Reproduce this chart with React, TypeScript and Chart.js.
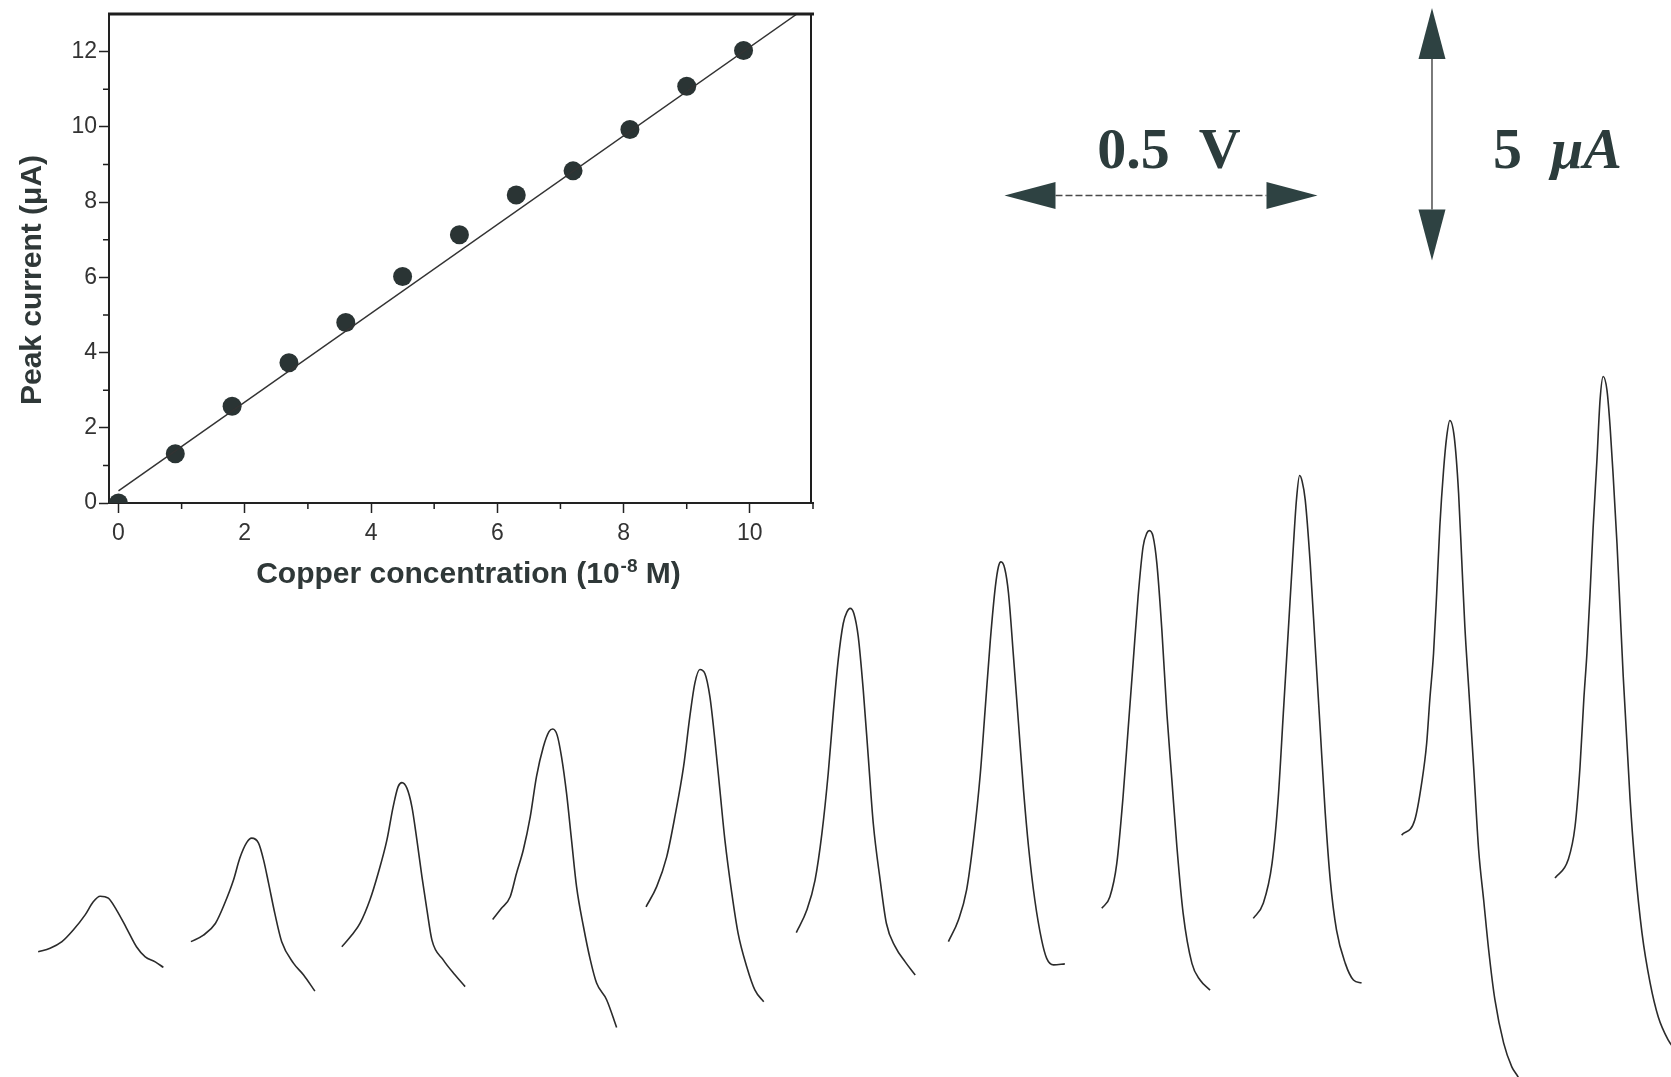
import React, { useEffect, useRef } from "react";
import { Chart, registerables } from "chart.js";

Chart.register(...registerables);

// ---------------- Inset: calibration plot ----------------
const concentrations = [0, 0.9, 1.8, 2.7, 3.6, 4.5, 5.4, 6.3, 7.2, 8.1, 9.0, 9.9]; // 10^-8 M
const peakCurrents = [0, 1.31, 2.57, 3.73, 4.8, 6.02, 7.13, 8.19, 8.83, 9.93, 11.08, 12.03]; // µA
const fitIntercept = 0.32;
const fitSlope = 1.18;
const insetXMajorTicks = [0, 2, 4, 6, 8, 10];
const insetXMinorTicks = [1, 3, 5, 7, 9, 11];
const insetYMajorTicks = [0, 2, 4, 6, 8, 10, 12];
const insetYMinorTicks = [1, 3, 5, 7, 9, 11];
const insetXRange = [-0.15, 11];
const insetYRange = [0, 13];

// ---------------- Main: stripping voltammograms (potential V, current µA, offset traces) ----------------
const vg1 = [[0.061, 2.48], [0.08, 2.55], [0.099, 2.68], [0.117, 2.91], [0.136, 3.21], [0.149, 3.47], [0.16, 3.58], [0.173, 3.54], [0.186, 3.31], [0.202, 2.95], [0.218, 2.58], [0.232, 2.38], [0.248, 2.28], [0.261, 2.17]];
const vg2 = [[0.305, 2.68], [0.325, 2.81], [0.344, 3.04], [0.359, 3.44], [0.373, 3.9], [0.383, 4.33], [0.394, 4.64], [0.402, 4.73], [0.413, 4.63], [0.421, 4.3], [0.429, 3.84], [0.439, 3.24], [0.45, 2.68], [0.469, 2.25], [0.485, 2.02], [0.503, 1.7]];
const vg3 = [[0.546, 2.58], [0.562, 2.81], [0.575, 3.04], [0.591, 3.51], [0.604, 4.03], [0.618, 4.69], [0.628, 5.35], [0.636, 5.75], [0.642, 5.83], [0.65, 5.72], [0.658, 5.35], [0.666, 4.69], [0.674, 3.97], [0.682, 3.31], [0.69, 2.71], [0.708, 2.32], [0.727, 2.02], [0.743, 1.79]];
const vg4 = [[0.787, 3.12], [0.801, 3.34], [0.815, 3.57], [0.825, 4.03], [0.836, 4.5], [0.847, 5.15], [0.857, 5.95], [0.868, 6.54], [0.877, 6.84], [0.883, 6.89], [0.89, 6.77], [0.897, 6.34], [0.905, 5.62], [0.913, 4.69], [0.921, 3.77], [0.932, 2.98], [0.943, 2.32], [0.953, 1.86], [0.969, 1.53], [0.985, 0.98]];
const vg5 = [[1.032, 3.37], [1.049, 3.77], [1.065, 4.36], [1.078, 5.15], [1.092, 6.15], [1.102, 7.14], [1.11, 7.8], [1.118, 8.07], [1.126, 7.99], [1.134, 7.53], [1.142, 6.67], [1.15, 5.68], [1.158, 4.69], [1.169, 3.64], [1.179, 2.85], [1.193, 2.18], [1.206, 1.72], [1.22, 1.49]];
const vg6 = [[1.272, 2.86], [1.289, 3.31], [1.302, 3.9], [1.313, 4.83], [1.323, 6.01], [1.331, 7.2], [1.339, 8.26], [1.347, 8.98], [1.353, 9.21], [1.358, 9.28], [1.364, 9.18], [1.371, 8.72], [1.379, 7.66], [1.387, 6.34], [1.395, 5.02], [1.406, 3.9], [1.416, 3.04], [1.43, 2.58], [1.446, 2.28], [1.462, 2.02]];
const vg7 = [[1.515, 2.68], [1.531, 3.11], [1.544, 3.7], [1.555, 4.69], [1.566, 6.01], [1.574, 7.33], [1.582, 8.65], [1.59, 9.71], [1.595, 10.11], [1.599, 10.2], [1.605, 10.07], [1.611, 9.58], [1.619, 8.32], [1.627, 7.0], [1.635, 5.68], [1.643, 4.56], [1.653, 3.51], [1.664, 2.71], [1.672, 2.35], [1.683, 2.22], [1.701, 2.24]];
const vg8 = [[1.76, 3.34], [1.773, 3.57], [1.784, 4.23], [1.794, 5.55], [1.802, 6.87], [1.81, 8.19], [1.818, 9.51], [1.826, 10.5], [1.832, 10.77], [1.836, 10.82], [1.842, 10.7], [1.848, 10.17], [1.856, 8.85], [1.864, 7.2], [1.872, 5.88], [1.88, 4.56], [1.89, 3.24], [1.904, 2.25], [1.917, 1.92], [1.933, 1.72]];
const vg9 = [[2.002, 3.14], [2.018, 3.44], [2.032, 4.23], [2.042, 5.55], [2.05, 7.2], [2.058, 8.85], [2.066, 10.5], [2.071, 11.43], [2.076, 11.91], [2.08, 11.8], [2.085, 11.43], [2.093, 10.17], [2.101, 8.52], [2.109, 6.87], [2.117, 5.22], [2.125, 3.9], [2.135, 2.91], [2.149, 2.25], [2.162, 1.92], [2.175, 1.86]];
const vg10 = [[2.239, 4.79], [2.26, 5.09], [2.271, 5.82], [2.279, 6.61], [2.284, 7.47], [2.29, 8.39], [2.295, 9.58], [2.3, 10.9], [2.306, 12.02], [2.311, 12.68], [2.316, 13.0], [2.323, 12.68], [2.33, 11.56], [2.335, 10.24], [2.34, 8.92], [2.346, 7.73], [2.354, 6.15], [2.362, 4.5], [2.37, 3.51], [2.378, 2.52], [2.388, 1.53], [2.402, 0.67], [2.415, 0.2], [2.425, 0], [2.431, -0.16]];
const vg11 = [[2.484, 3.94], [2.505, 4.3], [2.516, 4.96], [2.524, 6.15], [2.53, 7.47], [2.535, 8.39], [2.54, 9.58], [2.545, 10.9], [2.551, 12.22], [2.556, 13.41], [2.561, 13.87], [2.567, 13.6], [2.572, 12.88], [2.577, 11.89], [2.583, 10.57], [2.588, 9.25], [2.593, 7.93], [2.604, 5.49], [2.612, 4.16], [2.623, 2.85], [2.636, 1.86], [2.649, 1.19], [2.665, 0.73], [2.676, 0.53]];
const voltammograms = [vg1, vg2, vg3, vg4, vg5, vg6, vg7, vg8, vg9, vg10, vg11];

const potentialRange = [0, 2.6693]; // V across the page
const currentRange = [0, 21.327]; // µA across the page
const scaleBarVolts = 0.5;
const scaleBarMicroamps = 5;
const hBarAnchor = { potential: 1.6046, current: 17.455 };
const vBarAnchor = { potential: 2.2875, current: 16.168 };

const TICK_FONT = '"Liberation Sans Narrow", "Liberation Sans", Arial, sans-serif';
const TITLE_FONT = '"Liberation Sans", Arial, sans-serif';
const SERIF = '"Liberation Serif", "Times New Roman", serif';
const INK = "#2b2b2b";
const SLATE = "#2e4242";

const scaleBarsPlugin = {
  id: "scaleBars",
  afterDraw(chart: any) {
    const { ctx, scales } = chart;
    const x = scales.x, y = scales.y;
    const hx1 = x.getPixelForValue(hBarAnchor.potential);
    const hx2 = x.getPixelForValue(hBarAnchor.potential + scaleBarVolts);
    const hy = y.getPixelForValue(hBarAnchor.current);
    const vx = x.getPixelForValue(vBarAnchor.potential);
    const vyBottom = y.getPixelForValue(vBarAnchor.current);
    const vyTop = y.getPixelForValue(vBarAnchor.current + scaleBarMicroamps);
    const head = 51, half = 13.5;
    const tri = (ax: number, ay: number, bx: number, by: number, cx: number, cy: number) => {
      ctx.beginPath(); ctx.moveTo(ax, ay); ctx.lineTo(bx, by); ctx.lineTo(cx, cy); ctx.closePath(); ctx.fill();
    };
    ctx.save();
    // horizontal shaft
    ctx.strokeStyle = "#4a4a4a"; ctx.lineWidth = 1.4; ctx.setLineDash([7, 3]);
    ctx.beginPath(); ctx.moveTo(hx1 + head, hy); ctx.lineTo(hx2 - head, hy); ctx.stroke();
    ctx.setLineDash([]);
    // vertical shaft
    ctx.strokeStyle = "#333"; ctx.lineWidth = 1.3;
    ctx.beginPath(); ctx.moveTo(vx, vyTop + head); ctx.lineTo(vx, vyBottom - head); ctx.stroke();
    // heads
    ctx.fillStyle = SLATE;
    tri(hx1, hy, hx1 + head, hy - half, hx1 + head, hy + half);
    tri(hx2, hy, hx2 - head, hy - half, hx2 - head, hy + half);
    tri(vx, vyTop, vx - half, vyTop + head, vx + half, vyTop + head);
    tri(vx, vyBottom, vx - half, vyBottom - head, vx + half, vyBottom - head);
    // labels
    ctx.fillStyle = "#2c3c3c";
    ctx.textBaseline = "alphabetic";
    ctx.font = `bold 58px ${SERIF}`;
    ctx.textAlign = "center";
    ctx.fillText("0.5\u2002V", (hx1 + hx2) / 2 + 8, hy - 28);
    ctx.textAlign = "left";
    ctx.fillText("5", vx + 61, hy - 28);
    ctx.font = `italic bold 58px ${SERIF}`;
    ctx.fillText("\u03bcA", vx + 119, hy - 28);
    ctx.restore();
  },
};

const insetDecorPlugin = {
  id: "insetDecor",
  afterDraw(chart: any) {
    const { ctx, chartArea: a, scales } = chart;
    const x = scales.x, y = scales.y;
    ctx.save();
    ctx.strokeStyle = "#1e1e1e";
    ctx.lineWidth = 3;
    ctx.beginPath(); ctx.moveTo(a.left - 1, a.top); ctx.lineTo(a.right + 1, a.top); ctx.stroke();
    ctx.lineWidth = 2;
    ctx.beginPath(); ctx.moveTo(a.right - 2, a.top); ctx.lineTo(a.right - 2, a.bottom); ctx.stroke();
    ctx.lineWidth = 1.5;
    ctx.beginPath();
    insetXMinorTicks.forEach((v) => { const px = x.getPixelForValue(v); ctx.moveTo(px, a.bottom); ctx.lineTo(px, a.bottom + 6); });
    insetYMinorTicks.forEach((v) => { const py = y.getPixelForValue(v); ctx.moveTo(a.left, py); ctx.lineTo(a.left - 6, py); });
    ctx.stroke();
    // axis titles
    ctx.fillStyle = "#2f3838";
    ctx.font = `bold 30px ${TITLE_FONT}`;
    ctx.save();
    ctx.translate(a.left - 76, 280);
    ctx.rotate(-Math.PI / 2);
    ctx.textAlign = "center"; ctx.textBaseline = "middle";
    ctx.fillText("Peak current (\u03bcA)", 0, 0);
    ctx.restore();
    const p1 = "Copper concentration (10", sup = "-8", p2 = " M)";
    ctx.textAlign = "left"; ctx.textBaseline = "alphabetic";
    ctx.font = `bold 30px ${TITLE_FONT}`;
    const w1 = ctx.measureText(p1).width, w2 = ctx.measureText(p2).width;
    ctx.font = `bold 19px ${TITLE_FONT}`;
    const ws = ctx.measureText(sup).width;
    const base = a.bottom + 80;
    const sx = 468 - (w1 + ws + w2) / 2;
    ctx.font = `bold 30px ${TITLE_FONT}`;
    ctx.fillText(p1, sx, base);
    ctx.font = `bold 19px ${TITLE_FONT}`;
    ctx.fillText(sup, sx + w1 + 1, base - 11);
    ctx.font = `bold 30px ${TITLE_FONT}`;
    ctx.fillText(p2, sx + w1 + ws + 1, base);
    ctx.restore();
  },
};

export default function App() {
  const mainRef = useRef<HTMLCanvasElement>(null);
  const insetRef = useRef<HTMLCanvasElement>(null);

  useEffect(() => {
    const main = new Chart(mainRef.current as HTMLCanvasElement, {
      type: "line",
      data: {
        datasets: voltammograms.map((c, i) => ({
          label: `trace ${i + 1}`,
          data: c.map(([e, cur]) => ({ x: e, y: cur })),
          borderColor: INK,
          borderWidth: 1.6,
          pointRadius: 0,
          fill: false,
          cubicInterpolationMode: "monotone" as const,
        })),
      },
      options: {
        animation: false,
        responsive: false,
        devicePixelRatio: 1,
        events: [],
        layout: { padding: 0 },
        plugins: { legend: { display: false }, tooltip: { enabled: false } },
        scales: {
          x: { type: "linear", display: false, min: potentialRange[0], max: potentialRange[1] },
          y: { type: "linear", display: false, min: currentRange[0], max: currentRange[1] },
        },
      },
      plugins: [scaleBarsPlugin],
    });

    const xEnd = (insetYRange[1] - fitIntercept) / fitSlope;
    const inset = new Chart(insetRef.current as HTMLCanvasElement, {
      type: "scatter",
      data: {
        datasets: [
          {
            label: "fit",
            data: [{ x: 0, y: fitIntercept }, { x: xEnd, y: fitIntercept + fitSlope * xEnd }],
            showLine: true,
            borderColor: "#333",
            borderWidth: 1.5,
            pointRadius: 0,
          },
          {
            label: "peak current",
            data: concentrations.map((c, i) => ({ x: c, y: peakCurrents[i] })),
            pointRadius: 9.5,
            pointBackgroundColor: "#2a3434",
            pointBorderWidth: 0,
            showLine: false,
          },
        ],
      },
      options: {
        animation: false,
        responsive: false,
        devicePixelRatio: 1,
        events: [],
        layout: { padding: { left: 0, top: 14, right: 17, bottom: 0 } },
        plugins: { legend: { display: false }, tooltip: { enabled: false } },
        scales: {
          x: {
            type: "linear",
            min: insetXRange[0],
            max: insetXRange[1],
            afterBuildTicks: (s: any) => { s.ticks = insetXMajorTicks.map((v) => ({ value: v })); },
            afterFit: (s: any) => { s.height = 97; s.paddingLeft = 0; s.paddingRight = 0; },
            grid: { drawOnChartArea: false, drawTicks: true, tickLength: 10, tickWidth: 1.5, tickColor: "#222" },
            border: { display: true, color: "#222", width: 2 },
            ticks: { color: "#333", font: { family: TICK_FONT, size: 23 }, padding: 7, maxRotation: 0, autoSkip: false, callback: (v: any) => String(v) },
          },
          y: {
            type: "linear",
            min: insetYRange[0],
            max: insetYRange[1],
            afterBuildTicks: (s: any) => { s.ticks = insetYMajorTicks.map((v) => ({ value: v })); },
            afterFit: (s: any) => { s.width = 109; s.paddingTop = 0; s.paddingBottom = 0; },
            grid: { drawOnChartArea: false, drawTicks: true, tickLength: 10, tickWidth: 1.5, tickColor: "#222" },
            border: { display: true, color: "#222", width: 2 },
            ticks: { color: "#333", font: { family: TICK_FONT, size: 23 }, padding: 2, autoSkip: false, callback: (v: any) => String(v) },
          },
        },
      },
      plugins: [insetDecorPlugin],
    });

    return () => {
      main.destroy();
      inset.destroy();
    };
  }, []);

  return (
    <div style={{ position: "fixed", left: 0, top: 0, width: 1671, height: 1077, background: "#fff", overflow: "hidden" }}>
      <canvas ref={mainRef} width={1671} height={1077} style={{ position: "absolute", left: 0, top: 0, width: 1671, height: 1077 }} />
      <canvas ref={insetRef} width={830} height={600} style={{ position: "absolute", left: 0, top: 0, width: 830, height: 600 }} />
    </div>
  );
}
